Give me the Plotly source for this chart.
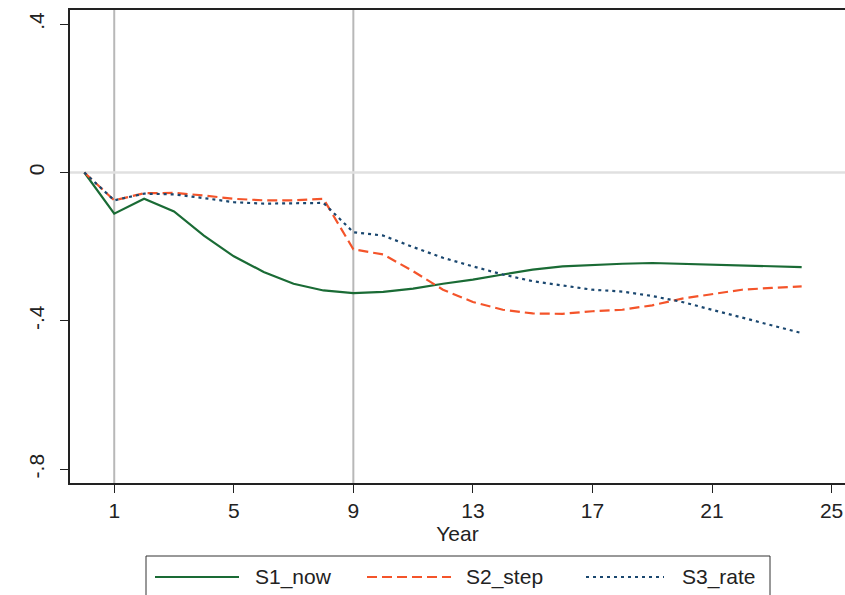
import plotly.graph_objects as go

years = list(range(0, 25))
s1_now = [0, -0.111, -0.071, -0.105, -0.170, -0.226, -0.268, -0.300, -0.318, -0.325,
          -0.322, -0.313, -0.300, -0.289, -0.275, -0.262, -0.253, -0.249, -0.246, -0.244,
          -0.246, -0.249, -0.251, -0.253, -0.255]
s2_step = [0, -0.075, -0.056, -0.055, -0.062, -0.071, -0.075, -0.075, -0.071, -0.207,
           -0.221, -0.266, -0.316, -0.349, -0.370, -0.380, -0.381, -0.374, -0.370, -0.358,
           -0.340, -0.327, -0.316, -0.311, -0.307]
s3_rate = [0, -0.075, -0.057, -0.059, -0.069, -0.080, -0.084, -0.084, -0.082, -0.161,
           -0.170, -0.201, -0.230, -0.253, -0.275, -0.293, -0.304, -0.316, -0.321, -0.333,
           -0.349, -0.370, -0.390, -0.412, -0.433]
series_names = ["S1_now", "S2_step", "S3_rate"]
x_ticks = [1, 5, 9, 13, 17, 21, 25]
y_ticks = [0.4, 0, -0.4, -0.8]
y_tick_labels = [".4", "0", "-.4", "-.8"]
vlines = [1, 9]

FONT = "Liberation Sans, Arial, sans-serif"
TXT = "#222222"
colors = ["#1a6b35", "#f4542a", "#1a476f"]
dashes = ["solid", "10px,5px", "3px,4px"]

W, H = 845, 595
L, R, T, B = 70, 0, 10, 595 - 483
PW, PH = W - L - R, H - T - B


def px_x(p):  # window pixel -> paper x
    return (p - L) / PW


def px_y(p):  # window pixel -> paper y
    return (H - B - p) / PH


fig = go.Figure()
for name, ys, c, d in zip(series_names, [s1_now, s2_step, s3_rate], colors, dashes):
    fig.add_trace(go.Scatter(x=years, y=ys, mode="lines", name=name,
                             line=dict(color=c, width=2.2, dash=d), showlegend=False))

for v in vlines:
    fig.add_vline(x=v, line=dict(color="#b8b8b8", width=2), layer="below")
fig.add_hline(y=0, line=dict(color="#e0e0e0", width=2.5), layer="below")

# legend box (Stata style, below the plot)
fig.add_shape(type="rect", xref="paper", yref="paper",
              x0=px_x(146), x1=px_x(770), y0=px_y(556), y1=px_y(620),
              line=dict(color="#333333", width=1), fillcolor="white")
row_y = px_y(577)
sample_x = [(155, 239), (367, 451), (586, 664)]
text_x = [253, 464, 680]
for name, c, d, (a, b), tx in zip(series_names, colors, dashes, sample_x, text_x):
    fig.add_shape(type="line", xref="paper", yref="paper",
                  x0=px_x(a), x1=px_x(b), y0=row_y, y1=row_y,
                  line=dict(color=c, width=2.2, dash=d))
    fig.add_annotation(xref="paper", yref="paper", x=px_x(tx), y=row_y,
                       text=name, showarrow=False, xanchor="left", yanchor="middle",
                       font=dict(size=21, color=TXT, family=FONT))

fig.update_layout(
    width=W, height=H,
    margin=dict(l=L, r=R, t=T, b=B, autoexpand=False),
    paper_bgcolor="white", plot_bgcolor="white",
    font=dict(family=FONT, size=21, color=TXT),
    showlegend=False,
    hovermode=False,
    xaxis=dict(range=[-0.48, 25.45], tickmode="array", tickvals=x_ticks,
               showgrid=False, zeroline=False, showline=True, linecolor="#222222",
               linewidth=1.5, mirror=True, ticks="outside", ticklen=8, tickcolor="#222222",
               tickfont=dict(size=21), automargin=False,
               title=dict(text="Year", font=dict(size=21), standoff=0)),
    yaxis=dict(range=[-0.837, 0.438], tickmode="array", tickvals=y_ticks,
               ticktext=y_tick_labels, tickangle=-90, automargin=False,
               showgrid=False, zeroline=False, showline=True, linecolor="#222222",
               linewidth=1.5, mirror=False, ticks="outside", ticklen=8, tickcolor="#222222",
               tickfont=dict(size=21), ticklabelstandoff=8),
)

# remove the browser's default 8px body margin so the 845x595 figure fills the window
fig.write_html("out.html", config={"displayModeBar": False},
               post_script="document.body.style.margin='0';")
